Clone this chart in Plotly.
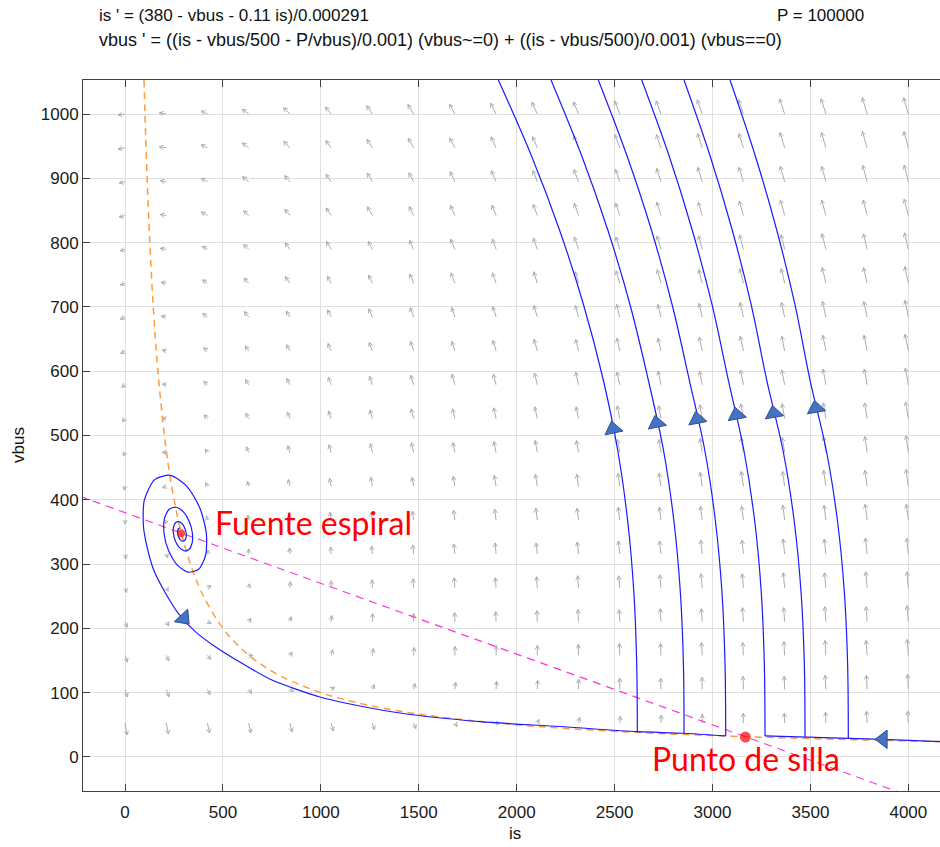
import math
import plotly.graph_objects as go

# ---------------- data ----------------
# direction-field grid (arrow tails) and arrow angle (deg, clockwise from up) / length (px)
FIELD_IS = [0, 210.5, 421.1, 631.6, 842.1, 1052.6, 1263.2, 1473.7, 1684.2, 1894.7,
            2105.3, 2315.8, 2526.3, 2736.8, 2947.4, 3157.9, 3368.4, 3578.9, 3789.5, 4000]
FIELD_VBUS = [1000, 947.4, 894.7, 842.1, 789.5, 736.8, 684.2, 631.6, 578.9, 526.3,
              473.7, 421.1, 368.4, 315.8, 263.2, 210.5, 157.9, 105.3, 52.6]
FIELD_ANGLE = [
    [-99, -81, -65, -54, -45, -39, -34, -31, -28, -26, -24, -22, -21, -20, -19, -18, -18, -17, -16, -16],
    [-100, -81, -64, -52, -43, -37, -33, -29, -27, -24, -23, -21, -20, -19, -18, -17, -17, -16, -16, -15],
    [-102, -80, -62, -50, -41, -35, -31, -28, -25, -23, -21, -20, -19, -18, -17, -17, -16, -15, -15, -14],
    [-104, -80, -60, -47, -39, -33, -29, -26, -23, -22, -20, -19, -18, -17, -16, -16, -15, -15, -14, -14],
    [-107, -80, -59, -45, -36, -31, -27, -24, -22, -20, -19, -18, -17, -16, -15, -15, -14, -14, -13, -13],
    [-110, -80, -56, -42, -34, -28, -25, -22, -20, -19, -17, -16, -16, -15, -14, -14, -13, -13, -13, -12],
    [-115, -80, -53, -39, -31, -26, -23, -20, -18, -17, -16, -15, -14, -14, -13, -13, -12, -12, -12, -11],
    [-121, -80, -50, -35, -28, -23, -20, -18, -17, -16, -15, -14, -13, -13, -12, -12, -11, -11, -11, -11],
    [-130, -81, -46, -31, -25, -21, -18, -16, -15, -14, -13, -12, -12, -12, -11, -11, -11, -10, -10, -10],
    [-141, -84, -41, -27, -21, -18, -16, -14, -13, -12, -12, -11, -11, -10, -10, -10, -10, -9, -9, -9],
    [-155, -91, -35, -22, -17, -15, -13, -12, -11, -11, -10, -10, -10, -9, -9, -9, -9, -9, -8, -8],
    [-170, -112, -27, -16, -13, -11, -10, -10, -9, -9, -9, -8, -8, -8, -8, -8, -8, -8, -8, -8],
    [178, -169, -14, -10, -8, -8, -8, -7, -7, -7, -7, -7, -7, -7, -7, -7, -7, -7, -7, -7],
    [168, 158, 10, -1, -3, -4, -5, -5, -5, -5, -6, -6, -6, -6, -6, -6, -6, -6, -6, -6],
    [162, 150, 61, 11, 3, 0, -2, -3, -3, -4, -4, -4, -5, -5, -5, -5, -5, -5, -5, -5],
    [160, 150, 113, 34, 12, 6, 2, 0, -1, -2, -2, -3, -3, -3, -4, -4, -4, -4, -4, -5],
    [160, 154, 139, 91, 33, 15, 8, 4, 2, 1, 0, -1, -2, -2, -3, -3, -3, -3, -4, -4],
    [163, 160, 156, 146, 120, 58, 24, 13, 7, 4, 2, 1, 0, -1, -1, -2, -2, -3, -3, -3],
    [170, 169, 169, 168, 167, 165, 163, 158, 145, 92, 26, 10, 5, 2, 0, -1, -2, -2, -3, -3],
]
FIELD_LEN = [
    [7, 7, 7, 8, 9, 9, 10, 11, 11, 12, 13, 13, 14, 14, 15, 15, 16, 16, 17, 17],
    [7, 7, 7, 8, 9, 9, 10, 11, 11, 12, 12, 13, 14, 14, 15, 15, 16, 16, 17, 17],
    [6, 6, 7, 8, 8, 9, 10, 10, 11, 12, 12, 13, 13, 14, 15, 15, 16, 16, 17, 17],
    [6, 6, 7, 7, 8, 9, 10, 10, 11, 11, 12, 13, 13, 14, 14, 15, 16, 16, 16, 17],
    [5, 6, 6, 7, 8, 9, 9, 10, 11, 11, 12, 13, 13, 14, 14, 15, 15, 16, 16, 17],
    [5, 5, 6, 7, 8, 8, 9, 10, 11, 11, 12, 12, 13, 14, 14, 15, 15, 16, 16, 17],
    [5, 5, 6, 7, 7, 8, 9, 10, 10, 11, 12, 12, 13, 13, 14, 15, 15, 16, 16, 17],
    [5, 4, 5, 6, 7, 8, 9, 10, 10, 11, 12, 12, 13, 13, 14, 15, 15, 16, 16, 17],
    [4, 4, 5, 6, 7, 8, 9, 10, 11, 11, 12, 13, 13, 14, 14, 15, 15, 16, 16, 17],
    [4, 4, 5, 6, 7, 8, 9, 10, 10, 11, 12, 12, 13, 13, 14, 15, 15, 16, 16, 17],
    [4, 4, 4, 6, 7, 8, 9, 10, 10, 11, 12, 12, 13, 13, 14, 15, 15, 16, 16, 17],
    [4, 4, 4, 5, 7, 8, 9, 9, 10, 11, 12, 12, 13, 13, 14, 15, 15, 16, 16, 17],
    [4, 4, 4, 5, 6, 8, 8, 9, 10, 11, 12, 12, 13, 13, 14, 14, 15, 15, 16, 16],
    [5, 4, 4, 5, 6, 7, 8, 9, 10, 11, 11, 12, 13, 13, 14, 14, 15, 15, 16, 16],
    [5, 4, 4, 4, 6, 7, 8, 9, 10, 10, 11, 12, 12, 13, 14, 14, 15, 15, 16, 16],
    [6, 5, 4, 4, 5, 6, 8, 8, 9, 10, 11, 12, 12, 13, 13, 14, 14, 15, 15, 16],
    [7, 6, 5, 4, 4, 6, 7, 8, 9, 10, 10, 11, 12, 12, 13, 13, 14, 15, 15, 16],
    [8, 8, 6, 5, 4, 4, 5, 6, 7, 8, 9, 10, 11, 11, 12, 13, 13, 14, 14, 15],
    [12, 11, 10, 10, 9, 8, 7, 6, 4, 4, 4, 6, 7, 8, 9, 10, 10, 11, 12, 12],
]

# nullclines
NULL_VBUS_IS = [97.1, 102, 112.9, 126.6, 144.3, 167.9, 201, 223.1, 250.8, 286.4, 333.9, 400.5,
                500.4, 571.8, 667, 800.3, 1000.2, 1111.3, 1250.2, 1428.7, 1666.8, 2000.1,
                2222.3, 2500.1, 2857.2, 3333.4, 3703.8, 4166.7]
NULL_VBUS_V = [1053, 1000, 900, 800, 700, 600, 500, 450, 400, 350, 300, 250,
               200, 175, 150, 125, 100, 90, 80, 70, 60, 50,
               45, 40, 35, 30, 27, 24]
NULL_IS_IS = [-300, 4000]
NULL_IS_V = [413, -60]

# trajectory leaving the spiral source and running to the saddle
SPIRAL_IS = [281.1, 273.8, 269.0, 268.4, 273.0, 281.9, 293.3, 304.2, 311.3, 312.1, 305.4, 292.0,
             275.0, 258.8, 248.2, 247.0, 257.1, 276.9, 302.3, 326.5, 342.4, 344.1, 329.1, 299.4,
             261.6, 225.5, 201.8, 199.3, 221.6, 265.9, 322.3, 376.2, 411.5, 415.3, 382.0, 315.9,
             231.8, 151.4, 98.7, 94.0, 112.3, 146.5, 197.6, 272.1, 358.9, 461.0, 597.3, 750.4,
             995.5, 1148.6, 1403.9, 1812.3, 2220.7, 2615.3, 2853.7, 3066.6]
SPIRAL_V = [356.1, 355.5, 352.6, 347.9, 342.5, 338.0, 335.7, 336.6, 340.9, 347.9, 355.9, 362.7,
            366.1, 364.8, 358.3, 347.9, 336.0, 325.9, 320.7, 322.7, 332.4, 347.9, 365.6, 380.7,
            388.4, 385.4, 371.1, 347.9, 321.4, 298.9, 287.4, 291.9, 313.4, 347.9, 387.4, 421.0,
            438.1, 431.4, 399.4, 359.2, 327.1, 290.8, 259.7, 223.5, 194.9, 171.5, 145.7, 119.7,
            93.3, 82.4, 68.4, 54.9, 47.4, 39.3, 36.9, 32.7]

# six trajectories coming down from the top
CURVE_IS = [
    [1906.3, 2073.8, 2218.8, 2341.8, 2442.4, 2516.5, 2567.5, 2598.7, 2613.0, 2616.1],
    [2175.4, 2330.6, 2465.4, 2579.3, 2672.2, 2750.4, 2803.5, 2836.1, 2851.5, 2854.5],
    [2416.9, 2561.9, 2688.1, 2794.3, 2881.6, 2961.3, 3015.4, 3048.6, 3063.9, 3067.5],
    [2638.5, 2776.9, 2896.4, 2998.0, 3080.8, 3160.9, 3216.1, 3249.3, 3264.6, 3268.2],
    [2854.5, 2986.3, 3100.7, 3197.7, 3276.8, 3360.6, 3417.8, 3452.5, 3468.9, 3472.4],
    [3089.4, 3217.1, 3327.9, 3421.4, 3497.9, 3581.7, 3638.9, 3673.6, 3689.9, 3693.5],
]
CURVE_V_COMMON = [1052.9, 936.2, 819.6, 703.0, 586.3, 475.9, 365.5, 255.1, 144.6]
CURVE_V_END = [39.3, 36.9, 32.7, 32.7, 31.1, 29.5]
RIGHT_IS = [3268.2, 3472.4, 3693.5, 3869.6, 4161.7]
RIGHT_V = [32.7, 31.1, 29.5, 27.5, 23.8]

# direction triangles on the trajectories
TRI_IS = [2492.8, 2714.3, 2921.6, 3122.7, 3313.1, 3527.6, 3871.2, 299.7]
TRI_V = [510.1, 519.0, 525.2, 531.9, 534.5, 542.3, 27.5, 215.7]
TRI_ANGLE = [-12, -12, -11, -11, -10, -10, -90, 137]

# equilibria
SADDLE = (3168, 31)
FOCUS = (286, 348)

X_RANGE = [-214.5, 4161.7]
Y_RANGE = [-52.9, 1052.9]
X_TICKS = [0, 500, 1000, 1500, 2000, 2500, 3000, 3500, 4000]
Y_TICKS = [0, 100, 200, 300, 400, 500, 600, 700, 800, 900, 1000]

# ---------------- layout constants ----------------
W, H = 940, 847
ML, MR, MT, MB = 83, 0, 80, 56
PW, PH = W - ML - MR, H - MT - MB
SX = PW / (X_RANGE[1] - X_RANGE[0])   # px per unit of is
SY = PH / (Y_RANGE[1] - Y_RANGE[0])   # px per unit of vbus

fig = go.Figure()

# direction field arrows
ax, ay = [], []
HEAD = 4.5
SPREAD = math.radians(28)
for r, v in enumerate(FIELD_VBUS):
    for k, i in enumerate(FIELD_IS):
        th = math.radians(FIELD_ANGLE[r][k])
        L = FIELD_LEN[r][k]
        tx = i + L * math.sin(th) / SX
        ty = v + L * math.cos(th) / SY
        ax += [i, tx, None]
        ay += [v, ty, None]
        back = th + math.pi
        w1 = (tx + HEAD * math.sin(back + SPREAD) / SX, ty + HEAD * math.cos(back + SPREAD) / SY)
        w2 = (tx + HEAD * math.sin(back - SPREAD) / SX, ty + HEAD * math.cos(back - SPREAD) / SY)
        ax += [w1[0], tx, w2[0], None]
        ay += [w1[1], ty, w2[1], None]
fig.add_trace(go.Scatter(x=ax, y=ay, mode="lines", line=dict(color="#adadad", width=1),
                         hoverinfo="skip", connectgaps=False))

# nullclines
fig.add_trace(go.Scatter(x=NULL_VBUS_IS, y=NULL_VBUS_V, mode="lines",
                         line=dict(color="#ff9b3d", width=1.5, dash="7px,5px", shape="spline")))
fig.add_trace(go.Scatter(x=NULL_IS_IS, y=NULL_IS_V, mode="lines",
                         line=dict(color="#ff33dd", width=1.2, dash="8px,6px")))

# trajectories
BLUE = "#1a1aff"
fig.add_trace(go.Scatter(x=SPIRAL_IS, y=SPIRAL_V, mode="lines",
                         line=dict(color=BLUE, width=1.2, shape="spline", smoothing=0.7)))
for cx, vend in zip(CURVE_IS, CURVE_V_END):
    fig.add_trace(go.Scatter(x=cx, y=CURVE_V_COMMON + [vend], mode="lines",
                             line=dict(color=BLUE, width=1.2, shape="spline", smoothing=1.0)))
fig.add_trace(go.Scatter(x=RIGHT_IS, y=RIGHT_V, mode="lines",
                         line=dict(color=BLUE, width=1.2)))

# equilibria
fig.add_trace(go.Scatter(x=[SADDLE[0], FOCUS[0]], y=[SADDLE[1], FOCUS[1]], mode="markers",
                         marker=dict(color="red", size=[11, 8], line=dict(width=0))))

# triangles
fig.add_trace(go.Scatter(x=TRI_IS, y=TRI_V, mode="markers",
                         marker=dict(symbol="triangle-up", size=16, angle=TRI_ANGLE,
                                     color="#4472c4", line=dict(color="#2f528f", width=1))))

TXT = dict(family="Liberation Sans, Arial, sans-serif", size=17, color="#111111")
TXT2 = dict(family="Liberation Sans, Arial, sans-serif", size=18, color="#111111")
RED = dict(family="Lato, Open Sans, sans-serif", size=32, color="#ff0000")
ann = [
    dict(text="is ' = (380 - vbus - 0.11 is)/0.000291", x=(97 - ML) / PW, y=1 + (MT - 15) / PH,
         xref="paper", yref="paper", xanchor="left", yanchor="middle", showarrow=False, font=TXT),
    dict(text="vbus ' = ((is - vbus/500 - P/vbus)/0.001) (vbus~=0) + ((is - vbus/500)/0.001) (vbus==0)",
         x=(97 - ML) / PW, y=1 + (MT - 40) / PH,
         xref="paper", yref="paper", xanchor="left", yanchor="middle", showarrow=False, font=TXT2),
    dict(text="P = 100000", x=(775 - ML) / PW, y=1 + (MT - 15) / PH,
         xref="paper", yref="paper", xanchor="left", yanchor="middle", showarrow=False, font=TXT),
    dict(text="is", x=(515 - ML) / PW, y=-(833 - (MT + PH)) / PH,
         xref="paper", yref="paper", xanchor="center", yanchor="middle", showarrow=False, font=TXT),
    dict(text="vbus", x=(18 - ML) / PW, y=(MT + PH - 445) / PH, textangle=-90,
         xref="paper", yref="paper", xanchor="center", yanchor="middle", showarrow=False, font=TXT),
    dict(text="Fuente espiral", x=450, y=364, xref="x", yref="y", xanchor="left",
         yanchor="middle", showarrow=False, font=RED),
    dict(text="Punto de silla", x=2682, y=-3, xref="x", yref="y", xanchor="left",
         yanchor="middle", showarrow=False, font=RED),
]

AX = dict(showline=True, linecolor="#404040", linewidth=1, ticks="inside", ticklen=7,
          tickcolor="#404040", showgrid=True, gridcolor="#e0e0e0", gridwidth=1,
          zeroline=False, tickfont=dict(family="Liberation Sans, Arial, sans-serif", size=17,
                                        color="#1a1a1a"))
fig.update_layout(
    width=W, height=H, margin=dict(l=ML, r=MR, t=MT, b=MB),
    paper_bgcolor="white", plot_bgcolor="white", showlegend=False,
    xaxis=dict(range=X_RANGE, tickvals=X_TICKS, mirror="ticks", ticklabelstandoff=6, **AX),
    yaxis=dict(range=Y_RANGE, tickvals=Y_TICKS, mirror=False, **AX),
    annotations=ann,
)
fig.write_html("out.html")
